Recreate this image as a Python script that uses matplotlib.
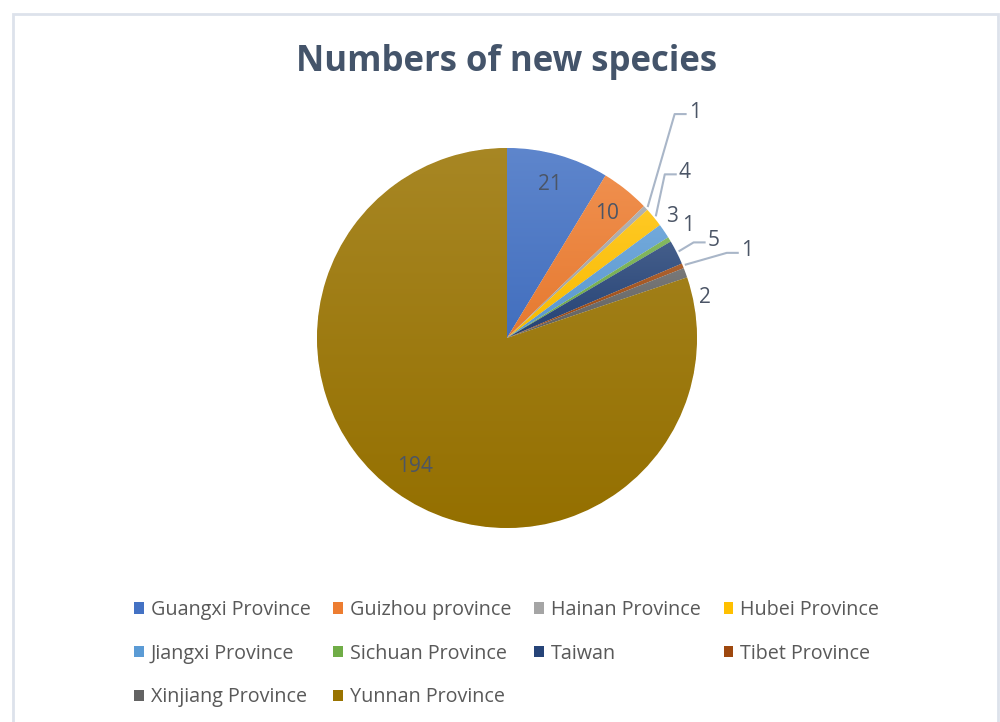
import numpy as np
import matplotlib.pyplot as plt
from matplotlib.patches import Patch, Rectangle
from matplotlib.colors import to_rgb

regions = ['Guangxi Province', 'Guizhou province', 'Hainan Province', 'Hubei Province',
           'Jiangxi Province', 'Sichuan Province', 'Taiwan', 'Tibet Province',
           'Xinjiang Province', 'Yunnan Province']
counts = [21, 10, 1, 4, 3, 1, 5, 1, 2, 194]
colors = ['#4472c4', '#ed7d31', '#a5a5a5', '#ffc000', '#5b9bd5',
          '#70ad47', '#264478', '#9e480e', '#636363', '#997300']

# label placement (pixels): inside labels use a radius, outside ones an offset
# from the wedge edge, with optional leader line
inside = {0: 0.84, 1: 0.84, 9: 0.83}
outside = {2: (49, 96, True), 3: (31, 45, True), 4: (8, 15, False),
           5: (19, 14, False), 6: (37, 12, True), 7: (64, 15, True),
           8: (19, -25, False)}

plt.rcParams['font.family'] = ['Open Sans', 'DejaVu Sans']

fig = plt.figure(figsize=(10, 7.22), dpi=100)
fig.patches.append(Rectangle((13 / 1000, -0.1), 985 / 1000, 1 - 14 / 722 + 0.1,
                             transform=fig.transFigure, fill=False,
                             edgecolor='#dde2eb', lw=2))

# axes in pixel units, pie centre at (507, 338)
R = 190
cx, cy, half = 507, 338, 260
ax = fig.add_axes([(cx - half) / 1000, 1 - (cy + half) / 722, 2 * half / 1000, 2 * half / 722])
ax.set_axis_off()

wedges, _ = ax.pie(counts, colors=colors, startangle=90, counterclock=False,
                   radius=R, wedgeprops=dict(edgecolor='white', linewidth=0.6))

# soft vertical gradient like the Office fill
for w, c in zip(wedges, colors):
    bb = w.get_path().get_extents(w.get_patch_transform())
    base = np.array(to_rgb(c))
    top = base + (1 - base) * 0.14
    t = np.linspace(0, 1, 200)[:, None]
    grad = top * (1 - t) + base * 0.97 * t
    img = ax.imshow(grad[:, None, :], extent=[bb.x0, bb.x1, bb.y0, bb.y1],
                    origin='upper', aspect='auto', zorder=w.get_zorder(),
                    interpolation='bilinear')
    img.set_clip_path(w)

ax.set_xlim(-half, half)
ax.set_ylim(-half, half)

total = sum(counts)
label_kw = dict(fontsize=15, color='#4b5566', ha='center', va='center')
cum = 0
for i, v in enumerate(counts):
    mid = np.deg2rad(90 - (cum + v / 2) * 360 / total)
    cum += v
    ex, ey = R * np.cos(mid), R * np.sin(mid)
    if i in inside:
        r = inside[i] * R
        ax.text(r * np.cos(mid), r * np.sin(mid), str(v), **label_kw)
    else:
        dx, dy, leader = outside[i]
        tx, ty = ex + dx, ey + dy
        ax.text(tx, ty, str(v), **label_kw)
        if leader:
            ax.plot([ex + 2, tx - 20, tx - 8], [ey + 1, ty - 2, ty - 2],
                    color='#a9b6c8', lw=1.5, clip_on=False, solid_capstyle='butt')

fig.text(cx / 1000, 1 - 62 / 722, 'Numbers of new species', ha='center', va='center',
         fontsize=25, fontweight='bold', color='#44546a')

# legend filled row by row
handles = [Patch(facecolor=c, edgecolor='none') for c in colors]
order = [0, 4, 8, 1, 5, 9, 2, 6, 3, 7]
fig.legend([handles[i] for i in order], [regions[i] for i in order],
           loc='upper left', bbox_to_anchor=(134 / 1000, 1 - 600 / 722), ncol=4,
           frameon=False, fontsize=14.2, labelcolor='#595959',
           handlelength=0.5, handleheight=0.5, handletextpad=0.35,
           columnspacing=1.15, labelspacing=1.2, borderpad=0, borderaxespad=0)

fig.savefig('out.png', dpi=100, facecolor='white')
